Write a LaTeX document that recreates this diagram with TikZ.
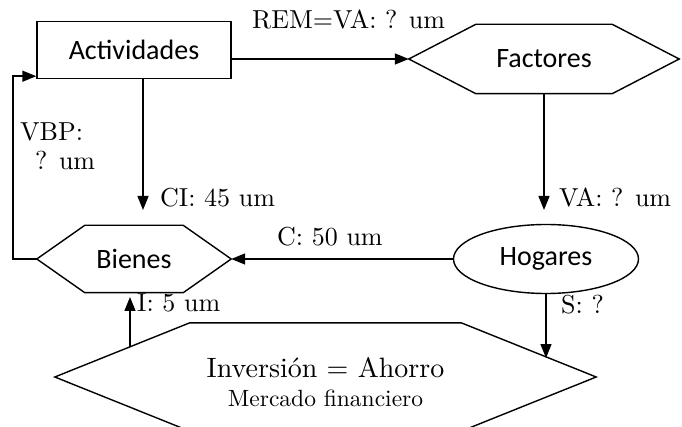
\documentclass[tikz,border=0pt]{standalone}
\usepackage{fontspec}
\setmainfont{lmroman10}[Extension=.otf, UprightFont=*-regular, BoldFont=*-bold, ItalicFont=*-italic, BoldItalicFont=*-bolditalic]
\newfontfamily\sansf{Carlito}
\usetikzlibrary{arrows.meta,calc,shapes.geometric}
\tikzset{
  base/.style={line width=1.4pt, line join=miter},
  arr/.style={base,-{Triangle[length=14pt,width=11pt]}},
  sanstext/.style={font=\sansf\fontsize{28}{34}\selectfont},
  boxnode/.style={draw, base, rectangle, inner sep=0pt, sanstext},
  hexnode/.style={rectangle, inner sep=0pt, sanstext},
  ellnode/.style={draw, base, ellipse, inner sep=0pt, sanstext},
  lbl/.style={anchor=base west, inner sep=0pt, font=\fontsize{26}{31}\selectfont},
}
\newcommand{\hexdraw}[2]{%
  \draw[base] (#1.west) -- ([xshift=#2]#1.north west) -- ([xshift=-#2]#1.north east)
    -- (#1.east) -- ([xshift=-#2]#1.south east) -- ([xshift=#2]#1.south west) -- cycle;}
\begin{document}
\begin{tikzpicture}[x=1pt,y=-1pt]
\useasboundingbox (0,0) rectangle (682,427);
\clip (0,0) rectangle (682,427);
\fill[white] (0,0) rectangle (682,427);

% nodes
\node[boxnode, minimum width=194pt, minimum height=57pt] (A) at (134,50) {Actividades};
\node[hexnode, minimum width=270pt, minimum height=69pt] (F) at (544,59) {Factores};
\hexdraw{F}{67pt}
\node[hexnode, minimum width=194pt, minimum height=67pt] (B) at (134,259) {Bienes};
\hexdraw{B}{48pt}
\node[ellnode, minimum width=185pt, minimum height=69pt] (H) at (546,259) {Hogares};
\node[hexnode, minimum width=541pt, minimum height=108pt] (Inv) at (325.5,377) {};
\hexdraw{Inv}{135pt}
\node[anchor=base, inner sep=0pt, font=\fontsize{28}{33}\selectfont] (invT) at (325.5,377) {Inversión = Ahorro};
\node[anchor=base, inner sep=0pt, font=\fontsize{23.5}{28}\selectfont] (mfT) at (325.5,406) {Mercado financiero};

% free ends
\coordinate (ciEnd) at (143,210);
\coordinate (vaEnd) at (544,210);
\coordinate (sEnd) at (546,358);
\coordinate (iStart) at (130,347);
\coordinate (iEnd) at (130,297);

% connectors
\draw[arr] (A.east |- F.west) -- (F.west);
\draw[arr] ([xshift=9pt]A.south) -- (ciEnd);
\draw[arr] (F.south) -- (vaEnd);
\draw[arr] (H.west) -- (B.east);
\draw[arr] (H.south) -- (sEnd);
\draw[arr] (iStart) -- (iEnd);
\draw[arr] (B.west) -- ++(-24,0) |- ([yshift=3pt]A.south west);

% labels
\node[lbl] (remL) at (252,29) {REM=VA: ? um};
\node[lbl] (vbpL) at (20,141) {VBP:};
\node[lbl] (vbpL2) at (35,170) {? um};
\node[lbl] (ciL) at (160,207) {CI: 45 um};
\node[lbl] (vaL) at (559,207) {VA: ? um};
\node[lbl] (cL) at (277,246) {C: 50 um};
\node[lbl] (sL) at (561,313) {S: ?};
\node[lbl] (iL) at (137,312) {I: 5 um};
\end{tikzpicture}
\end{document}
